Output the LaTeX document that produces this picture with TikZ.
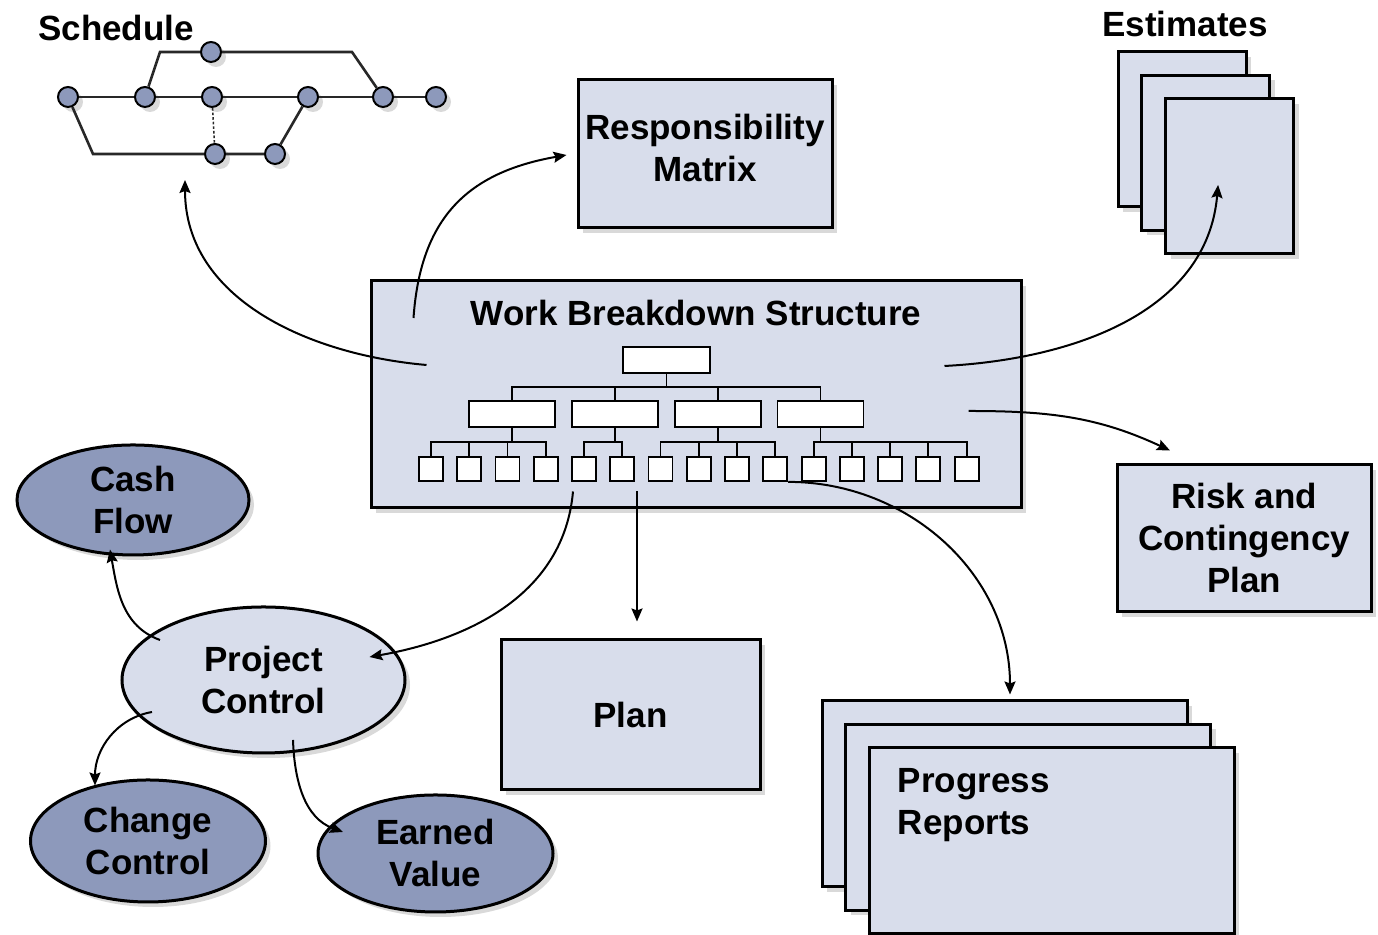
\documentclass[tikz,border=0pt]{standalone}
\usepackage{fontspec}
\setmainfont{Liberation Sans}
\usepackage{tikz}
\usetikzlibrary{shapes,shapes.geometric,arrows.meta,calc,positioning,shadows}

\definecolor{boxfill}{RGB}{216,221,235}
\definecolor{ovalfill}{RGB}{141,153,187}
\definecolor{netline}{RGB}{40,40,40}

\begin{document}
\begin{tikzpicture}[%
>={Stealth[length=6.5pt,width=5.5pt,inset=1pt]},
x=0.5pt, y=0.5pt,
node distance=19.13pt,
on grid,
every node/.style={font=\bfseries\fontsize{17.5}{21}\selectfont},
boxshadow/.style={drop shadow={shadow xshift=2.5pt,shadow yshift=-2.5pt,opacity=0.3}},
block/.style={draw, line width=1.5pt, fill=boxfill, align=center, inner sep=0pt, boxshadow},
oval/.style={ellipse, draw, line width=1.5pt, fill=ovalfill, align=center, inner sep=0pt, boxshadow},
event/.style={circle, draw, line width=1pt, fill=ovalfill, minimum size=10pt, inner sep=0pt, boxshadow},
wbox/.style={draw, fill=white, line width=0.9pt, minimum width=43pt, minimum height=13pt, inner sep=0pt},
leaf/.style={draw, fill=white, line width=0.9pt, minimum size=12pt, inner sep=0pt},
treeline/.style={line width=0.9pt},
net/.style={line width=1.3pt, netline},
link/.style={->, line width=1pt}
]
\useasboundingbox (0,0) rectangle (1378,935);

% schedule network
\node (sched) at (116,907) {Schedule};
\node[event] (a1) at (68,838) {};
\node[event] (a2) at (145,838) {};
\node[event] (a3) at (212,838) {};
\node[event] (a4) at (308,838) {};
\node[event] (a5) at (383,838) {};
\node[event] (a6) at (436,838) {};
\node[event] (t1) at (211,883) {};
\node[event] (b1) at (215,781) {};
\node[event] (b2) at (275,781) {};
\coordinate (k1) at (160,883);
\coordinate (k2) at (352,883);
\coordinate (k3) at (93,781);
\draw[net] (a1) -- (a2) -- (a3) -- (a4) -- (a5) -- (a6);
\draw[net] (a2) -- (k1) -- (t1) -- (k2) -- (a5);
\draw[net] (a1) -- (k3) -- (b1) -- (b2) -- (a4);
\draw[net, densely dotted, line width=0.8pt] (a3) -- (b1);

% boxes
\node[block, minimum width=127pt, minimum height=74pt, text depth=6pt] (resp) at (705,781) {Responsibility\\Matrix};

\node (esttitle) at (1185,911) {Estimates};
\node[block, minimum width=64pt, minimum height=77.5pt] (est1) at (1182,805.5) {};
\node[block, minimum width=64pt, minimum height=77.5pt] (est2) [below right=11.75pt and 11.9pt of est1] {};
\node[block, minimum width=64pt, minimum height=77.5pt] (est3) [below right=11.75pt and 11.9pt of est2] {};

\node[block, minimum width=127pt, minimum height=73.5pt] (risk) at (1244,396.5) {Risk and\\Contingency\\Plan};
\node[block, minimum width=129.5pt, minimum height=75pt] (plan) at (630.5,220) {Plan};

\node[block, minimum width=182.5pt, minimum height=93pt] (prog1) at (1004.5,141) {};
\node[block, minimum width=182.5pt, minimum height=93pt] (prog2) [below right=11.75pt and 11.75pt of prog1] {};
\node[block, minimum width=182.5pt, minimum height=93pt] (prog3) [below right=11.75pt and 11.75pt of prog2] {};
\node[anchor=north west, align=left, inner sep=0pt] (progtxt) at ([xshift=15pt,yshift=-11pt] prog3.north west) {Progress\\Reports};

% ovals
\node[oval, fill=boxfill, minimum width=141.5pt, minimum height=73pt] (pc) at (263.5,255) {Project\\Control};
\node[oval, minimum width=116pt, minimum height=55pt] (cash) at (133,435) {Cash\\Flow};
\node[oval, minimum width=117.5pt, minimum height=61pt] (chg) at (148,94) {Change\\Control};
\node[oval, minimum width=117.5pt, minimum height=58.5pt] (ev) at (435.5,81.5) {Earned\\Value};

% work breakdown structure
\node[block, minimum width=325pt, minimum height=113.5pt] (wbs) at (696,540.5) {};
\node (wbstitle) at (696,622) {Work Breakdown Structure};

\node[wbox, minimum width=43.5pt] (root) at (666.5,575) {};
\node[wbox] (w1) at (512,521) {};
\node[wbox] (w2) [right of=w1, node distance=51.4pt] {};
\node[wbox] (w3) [right of=w2, node distance=51.4pt] {};
\node[wbox] (w4) [right of=w3, node distance=51.4pt] {};

\node[leaf] (c1) at (431,466) {};
\node[leaf] (c2) [right of=c1] {};
\node[leaf] (c3) [right of=c2] {};
\node[leaf] (c4) [right of=c3] {};
\node[leaf] (c5) [right of=c4] {};
\node[leaf] (c6) [right of=c5] {};
\node[leaf] (c7) [right of=c6] {};
\node[leaf] (c8) [right of=c7] {};
\node[leaf] (c9) [right of=c8] {};
\node[leaf] (c10) [right of=c9] {};
\node[leaf] (c11) [right of=c10] {};
\node[leaf] (c12) [right of=c11] {};
\node[leaf] (c13) [right of=c12] {};
\node[leaf] (c14) [right of=c13] {};
\node[leaf] (c15) [right of=c14] {};

\draw[treeline] (root.south) -- ++(0,-6.5pt) -| (w1.north);
\draw[treeline] (root.south) -- ++(0,-6.5pt) -| (w2.north);
\draw[treeline] (root.south) -- ++(0,-6.5pt) -| (w3.north);
\draw[treeline] (root.south) -- ++(0,-6.5pt) -| (w4.north);

\draw[treeline] (w1.south) -- ++(0,-7pt) -| (c1.north);
\draw[treeline] (w1.south) -- ++(0,-7pt) -| (c2.north);
\draw[treeline] (w1.south) -- ++(0,-7pt) -| (c3.north);
\draw[treeline] (w1.south) -- ++(0,-7pt) -| (c4.north);
\draw[treeline] (w2.south) -- ++(0,-7pt) -| (c5.north);
\draw[treeline] (w2.south) -- ++(0,-7pt) -| (c6.north);
\draw[treeline] (w3.south) -- ++(0,-7pt) -| (c7.north);
\draw[treeline] (w3.south) -- ++(0,-7pt) -| (c8.north);
\draw[treeline] (w3.south) -- ++(0,-7pt) -| (c9.north);
\draw[treeline] (w3.south) -- ++(0,-7pt) -| (c10.north);
\draw[treeline] (w4.south) -- ++(0,-7pt) -| (c11.north);
\draw[treeline] (w4.south) -- ++(0,-7pt) -| (c12.north);
\draw[treeline] (w4.south) -- ++(0,-7pt) -| (c13.north);
\draw[treeline] (w4.south) -- ++(0,-7pt) -| (c14.north);
\draw[treeline] (w4.south) -- ++(0,-7pt) -| (c15.north);

% arrows out of the WBS
\path[link] ([xshift=28.5pt,yshift=14.75pt] wbs.west) edge [out=175, in=-90] ([xshift=20pt,yshift=-41.5pt] a2.center);
\path[link] ([xshift=22pt,yshift=38.25pt] wbs.west) edge [out=86, in=190, looseness=1.15] ([xshift=-5pt,yshift=-0.5pt] resp.west);
\path[link] ([xshift=-39pt,yshift=14.25pt] wbs.east) edge [out=3, in=-95] ([xshift=-5.75pt,yshift=-4.25pt] est3.center);
\path[link] ([xshift=-27pt,yshift=-8.25pt] wbs.east) edge [out=0, in=155] ([xshift=-37pt,yshift=6.5pt] risk.north);
\path[link] ([xshift=-29.5pt,yshift=9pt] wbs.south) edge ([xshift=3.25pt,yshift=8.5pt] plan.north);
\path[link] ([xshift=-61.5pt,yshift=9pt] wbs.south) edge [out=-95, in=10] ([xshift=-18.5pt,yshift=11.5pt] pc.east);
\path[link] (c10.south east) edge [out=0, in=90] ([xshift=2.75pt,yshift=2.5pt] prog1.north);

% arrows out of project control
\path[link] ([xshift=-51.75pt,yshift=20pt] pc.center) edge [out=160, in=-80] ([xshift=-11.5pt,yshift=3.5pt] cash.south);
\path[link] ([xshift=-55.75pt,yshift=-16pt] pc.center) edge [out=190, in=90] ([xshift=-26.5pt,yshift=-3.5pt] chg.north);
\path[link] ([xshift=14.75pt,yshift=-30pt] pc.center) edge [out=-88, in=160] ([xshift=-46.25pt,yshift=10.75pt] ev.center);
\end{tikzpicture}
\end{document}
